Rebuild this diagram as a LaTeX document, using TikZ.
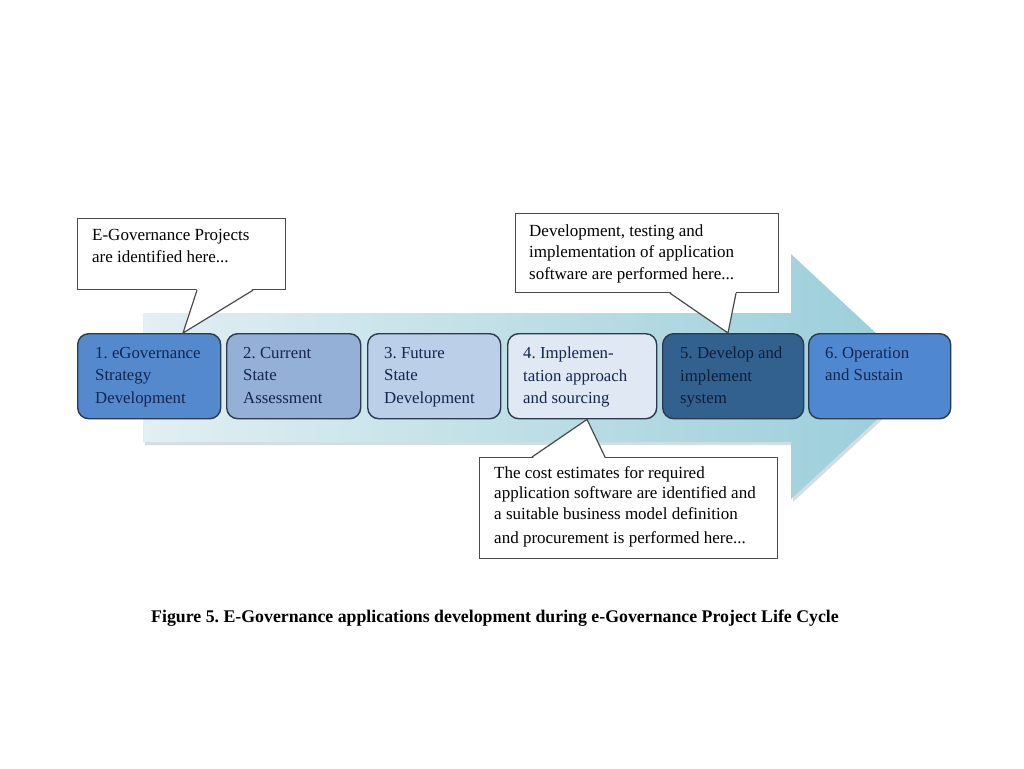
\documentclass[tikz,border=0pt]{standalone}
\usepackage{fontspec}
\setmainfont{Liberation Serif}
\usetikzlibrary{calc}
\definecolor{boxline}{HTML}{2B3A4D}
\definecolor{navytext}{HTML}{14254D}
\definecolor{darktext}{HTML}{0F1D36}
\definecolor{cgray}{HTML}{4A4A4A}
\definecolor{fillA}{HTML}{5589CD}
\definecolor{fillB}{HTML}{94B0D6}
\definecolor{fillC}{HTML}{BCCFE8}
\definecolor{fillD}{HTML}{DFE8F3}
\definecolor{fillE}{HTML}{33618F}
\definecolor{fillF}{HTML}{4F88D0}
\definecolor{arrowL}{HTML}{E2EFF3}
\definecolor{arrowR}{HTML}{98CDD9}
\definecolor{shadowc}{HTML}{D3DEE2}
\frenchspacing
\begin{document}
\frenchspacing
\begin{tikzpicture}[x=1pt,y=-1pt,
  stage/.style={draw=boxline, line width=1.4pt, rounded corners=11pt, anchor=north west, inner sep=0pt, minimum height=85pt},
  stagetext/.style={anchor=north west, inner sep=0pt, align=left, text=navytext, font=\fontsize{16.8}{22.5}\selectfont\frenchspacing},
  cobox/.style={draw=cgray, line width=1.2pt, fill=white, anchor=north west, inner sep=0pt},
  cotext/.style={anchor=north west, inner sep=0pt, align=left, text=black, font=\fontsize{17}{21.5}\selectfont\frenchspacing},
  cline/.style={draw=cgray, line width=1.2pt, line join=miter}
]
\useasboundingbox[fill=white] (0,0) rectangle (1024,768);

% big arrow
\begin{scope}[shift={(2,3)}]
\fill[shadowc] (143,313) -- (791,313) -- (791,254) -- (923,377) -- (791,499) -- (791,442) -- (143,442) -- cycle;
\end{scope}
\shade[left color=arrowL, right color=arrowR] (143,313) -- (791,313) -- (791,254) -- (923,377) -- (791,499) -- (791,442) -- (143,442) -- cycle;

% stages
\node[stage, fill=fillA, minimum width=143pt] (b1) at (77,333) {};
\node[stage, fill=fillB, minimum width=134pt] (b2) at (226,333) {};
\node[stage, fill=fillC, minimum width=133pt] (b3) at (367,333) {};
\node[stage, fill=fillD, minimum width=149pt] (b4) at (507,333) {};
\node[stage, fill=fillE, minimum width=141pt] (b5) at (662,333) {};
\node[stage, fill=fillF, minimum width=142pt] (b6) at (808,333) {};

\node[stagetext] (t1) at ($(b1.north west)+(18,14)$) {1. eGovernance\\Strategy\\Development};
\node[stagetext] (t2) at ($(b2.north west)+(17,14)$) {2. Current\\State\\Assessment};
\node[stagetext] (t3) at ($(b3.north west)+(17,14)$) {3. Future\\State\\Development};
\node[stagetext] (t4) at ($(b4.north west)+(16,14)$) {4. Implemen-\\tation approach\\and sourcing};
\node[stagetext, text=darktext] (t5) at ($(b5.north west)+(18,14)$) {5. Develop and\\implement\\system};
\node[stagetext] (t6) at ($(b6.north west)+(17,14)$) {6. Operation\\and Sustain};

% pointer tips
\coordinate (p1) at ($(b1.north west)+(106,0)$);
\coordinate (p2) at ($(b5.north west)+(66,0)$);
\coordinate (p3) at ($(b4.south west)+(80,0)$);

% callout 1
\node[cobox, minimum width=208pt, minimum height=71pt] (c1) at (77,218) {};
\fill[white] ($(c1.south west)+(120,-1.5)$) -- (p1) -- ($(c1.south west)+(176,-1.5)$) -- cycle;
\draw[cline] ($(c1.south west)+(120,0)$) -- (p1) -- ($(c1.south west)+(176,0)$);
\node[cotext, font=\fontsize{17}{22.5}\selectfont\frenchspacing] (c1t) at ($(c1.north west)+(15,11)$) {E-Governance Projects\\are identified here...};

% callout 2
\node[cobox, minimum width=263pt, minimum height=79pt] (c2) at (515,213) {};
\fill[white] ($(c2.south west)+(155,-1.5)$) -- (p2) -- ($(c2.south west)+(221,-1.5)$) -- cycle;
\draw[cline] ($(c2.south west)+(155,0)$) -- (p2) -- ($(c2.south west)+(221,0)$);
\node[cotext] (c2t) at ($(c2.north west)+(14,11.5)$) {Development, testing and\\implementation of application\\software are performed here...};

% callout 3
\node[cobox, minimum width=298pt, minimum height=101pt] (c3) at (479,457) {};
\fill[white] ($(c3.north west)+(53,1.5)$) -- (p3) -- ($(c3.north west)+(126,1.5)$) -- cycle;
\draw[cline] ($(c3.north west)+(53,0)$) -- (p3) -- ($(c3.north west)+(126,0)$);
\node[cotext, font=\fontsize{17}{20.5}\selectfont\frenchspacing] (c3t) at ($(c3.north west)+(15,9)$) {The cost estimates for required\\application software are identified and\\a suitable business model definition\\[3.5pt]and procurement is performed here...};

% caption
\node[inner sep=0pt, font=\bfseries\fontsize{17.8}{20}\selectfont\frenchspacing] (cap) at (495,618) {Figure 5. E-Governance applications development during e-Governance Project Life Cycle};
\end{tikzpicture}
\end{document}
